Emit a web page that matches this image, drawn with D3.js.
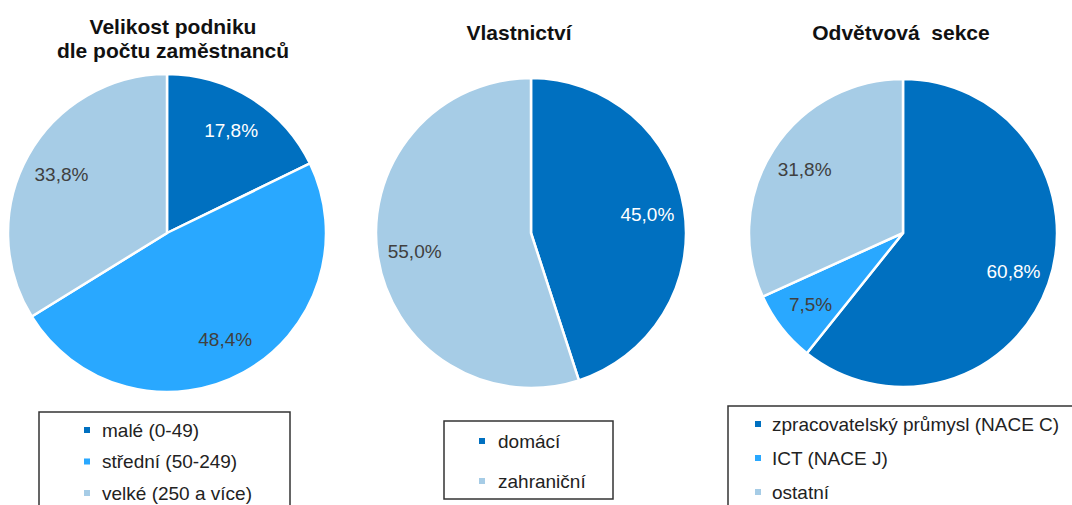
<!DOCTYPE html>
<html lang="cs">
<head>
<meta charset="utf-8">
<script src="https://cdn.jsdelivr.net/npm/d3@7"></script>
<style>
    body {margin: 0; background: #fff;}
    text {font-family: "Liberation Sans", Arial, sans-serif;}
</style>
</head>
<body>
<script>
    // data
    const sizeCats = ["malé (0-49)", "střední (50-249)", "velké (250 a více)"];
    const sizeVals = [17.8, 48.4, 33.8];
    const ownCats = ["domácí", "zahraniční"];
    const ownVals = [45.0, 55.0];
    const sectCats = ["zpracovatelský průmysl (NACE C)", "ICT (NACE J)", "ostatní"];
    const sectVals = [60.8, 7.5, 31.8];

    const dark = "#0070c0", mid = "#29a8ff", light = "#a6cce6";

    const charts = [
        {title: ["Velikost podniku", "dle počtu zaměstnanců"], titleX: 173, cats: sizeCats, vals: sizeVals,
         colors: [dark, mid, light], cx: 167, cy: 233, r: 159,
         legend: {x: 39, y: 412, w: 251, h: 110, mx: 87, tx: 102, y0: 430, dy: 31.5}},
        {title: ["Vlastnictví"], titleX: 519, cats: ownCats, vals: ownVals,
         colors: [dark, light], cx: 531, cy: 233, r: 155,
         legend: {x: 444, y: 421, w: 169, h: 78, mx: 482, tx: 498, y0: 441, dy: 40}},
        {title: ["Odvětvová  sekce"], titleX: 901, cats: sectCats, vals: sectVals,
         colors: [dark, mid, light], cx: 903, cy: 233, r: 154,
         legend: {x: 728, y: 406, w: 360, h: 120, mx: 758, tx: 772, y0: 424, dy: 34}}
    ];

    const svg = d3.select("body").append("svg")
        .attr("width", 1072)
        .attr("height", 505);

    const fmt = v => d3.format(".1f")(v).replace(".", ",") + "%";

    charts.forEach(c => {
        // title
        const t = svg.append("text")
            .attr("x", c.titleX)
            .attr("text-anchor", "middle")
            .style("font-weight", "bold")
            .style("font-size", "21px")
            .attr("fill", "#111")
            .style("white-space", "pre");
        c.title.forEach((line, i) => {
            t.append("tspan")
                .attr("x", c.titleX)
                .attr("y", (c.title.length > 1 ? 34 : 40) + i * 24)
                .text(line);
        });

        // pie
        const pie = d3.pie().sort(null)(c.vals);
        const arc = d3.arc().innerRadius(0).outerRadius(c.r);
        const labelArc = d3.arc().innerRadius(c.r * 0.76).outerRadius(c.r * 0.76);

        const g = svg.append("g").attr("transform", `translate(${c.cx},${c.cy})`);
        g.selectAll("path")
            .data(pie)
            .join("path")
              .attr("d", arc)
              .attr("fill", (d, i) => c.colors[i])
              .attr("stroke", "#fff")
              .attr("stroke-width", 2.5);

        g.selectAll("text")
            .data(pie)
            .join("text")
              .attr("transform", d => `translate(${labelArc.centroid(d)})`)
              .attr("text-anchor", "middle")
              .attr("dy", "0.35em")
              .style("font-size", "19px")
              .attr("fill", (d, i) => c.colors[i] === dark ? "#fff" : "#404040")
              .text(d => fmt(d.data));

        // legend
        const L = c.legend;
        svg.append("rect")
            .attr("x", L.x).attr("y", L.y)
            .attr("width", L.w).attr("height", L.h)
            .attr("fill", "none")
            .attr("stroke", "#333")
            .attr("stroke-width", 1.5);

        const items = svg.append("g").selectAll("g")
            .data(c.cats)
            .join("g")
              .attr("transform", (d, i) => `translate(0,${L.y0 + i * L.dy})`);
        items.append("rect")
            .attr("x", L.mx - 3).attr("y", -3)
            .attr("width", 6).attr("height", 6)
            .attr("fill", (d, i) => c.colors[i]);
        items.append("text")
            .attr("x", L.tx)
            .attr("dy", "0.35em")
            .style("font-size", "19px")
            .attr("fill", "#222")
            .text(d => d);
    });
</script>
</body>
</html>
